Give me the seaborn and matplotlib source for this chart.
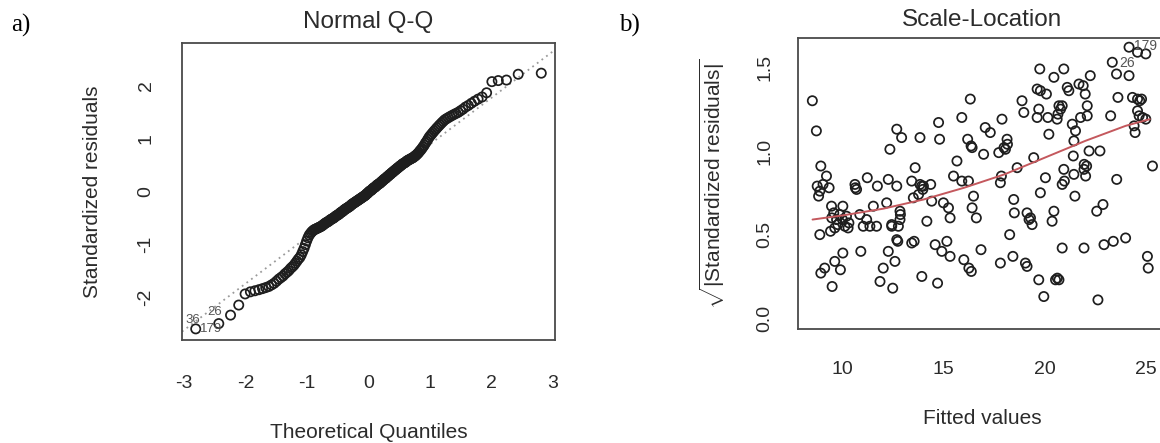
import numpy as np
import pandas as pd
import matplotlib
matplotlib.use("Agg")
import matplotlib.pyplot as plt
import seaborn as sns
from statistics import NormalDist

# ---------------- data ----------------
# a) sorted standardized residuals (n = 200)
std_resid_sorted = [
    -2.60, -2.50, -2.34, -2.15, -1.94, -1.90, -1.88, -1.86, -1.84, -1.82,
    -1.80, -1.77, -1.74, -1.70, -1.66, -1.63, -1.60, -1.56, -1.53, -1.50,
    -1.46, -1.43, -1.40, -1.36, -1.32, -1.28, -1.25, -1.20, -1.14, -1.08,
    -1.01, -0.94, -0.88, -0.83, -0.80, -0.77, -0.75, -0.73, -0.72, -0.71,
    -0.70, -0.69, -0.68, -0.67, -0.66, -0.645, -0.63, -0.615, -0.60, -0.59,
    -0.58, -0.57, -0.555, -0.54, -0.53, -0.52, -0.51, -0.50, -0.485, -0.47,
    -0.46, -0.45, -0.44, -0.43, -0.41, -0.40, -0.39, -0.38, -0.365, -0.35,
    -0.34, -0.33, -0.32, -0.31, -0.30, -0.29, -0.28, -0.265, -0.25, -0.24,
    -0.23, -0.22, -0.21, -0.20, -0.19, -0.18, -0.17, -0.16, -0.15, -0.14,
    -0.13, -0.12, -0.11, -0.10, -0.09, -0.08, -0.07, -0.05, -0.04, -0.03,
    -0.01, 0.00, 0.01, 0.02, 0.03, 0.05, 0.06, 0.07, 0.08, 0.09,
    0.11, 0.12, 0.13, 0.14, 0.15, 0.16, 0.18, 0.19, 0.20, 0.22,
    0.23, 0.24, 0.25, 0.27, 0.28, 0.29, 0.31, 0.32, 0.33, 0.35,
    0.36, 0.37, 0.39, 0.40, 0.41, 0.43, 0.44, 0.45, 0.47, 0.48,
    0.49, 0.51, 0.52, 0.53, 0.54, 0.55, 0.57, 0.58, 0.59, 0.60,
    0.61, 0.62, 0.63, 0.64, 0.66, 0.67, 0.69, 0.71, 0.73, 0.76,
    0.78, 0.81, 0.84, 0.87, 0.91, 0.94, 0.98, 1.02, 1.05, 1.08,
    1.11, 1.14, 1.17, 1.20, 1.23, 1.26, 1.29, 1.32, 1.35, 1.37,
    1.39, 1.41, 1.43, 1.45, 1.47, 1.49, 1.52, 1.55, 1.59, 1.62,
    1.66, 1.70, 1.74, 1.78, 1.86, 2.07, 2.09, 2.10, 2.21, 2.23,
]
qq_point_labels = ["179", "36", "26"]
qq_label_x = [-2.74, -2.97, -2.62]
qq_label_y = [-2.60, -2.44, -2.28]

# b) scale-location points
fitted_vals = [
    8.49, 8.69, 8.91, 9.19, 8.73, 9.32, 8.86, 9.44, 10.00, 9.55, 9.85, 10.18, 9.69, 9.98, 8.86,
    9.39, 9.60, 10.26, 10.00, 9.60, 9.10, 8.91, 9.88, 9.47, 9.02, 8.80, 9.45, 9.75, 10.30, 10.10,
    10.60, 10.68, 11.21, 11.71, 12.25, 12.67, 10.84, 11.18, 11.51, 11.01, 11.34, 11.67, 12.17, 12.42,
    12.83, 12.83, 12.75, 12.33, 12.67, 12.91, 10.89, 12.25, 12.58, 12.67, 12.72, 12.00, 11.84, 12.47,
    10.62, 12.42, 12.85,
    13.41, 13.58, 13.82, 13.82, 13.99, 14.35, 13.96, 13.49, 14.40, 13.41, 13.53, 13.91, 14.16, 14.74,
    14.79, 14.98, 15.23, 15.31, 14.57, 14.90, 15.15, 15.31, 14.69, 15.65, 15.48, 15.89, 16.22, 15.89,
    16.31, 16.18, 16.40, 16.47, 16.40, 16.61, 15.99, 16.24, 16.36, 16.84, 13.90, 16.35, 13.75,
    16.97, 17.05, 17.30, 17.88, 17.72, 18.05, 18.13, 17.80, 17.85, 17.80, 18.26, 18.46, 18.49, 18.42,
    18.63, 18.87, 18.96, 19.04, 19.12, 19.12, 19.29, 19.37, 19.45, 19.62, 19.78, 20.08, 19.75, 19.70,
    19.62, 19.78, 20.03, 20.20, 20.15, 19.70, 19.95, 20.45, 20.61, 20.70, 20.86, 20.78, 20.45, 20.36,
    20.86, 20.53, 20.70, 20.62, 20.94, 21.11, 21.19, 21.36, 21.52, 21.44, 21.41, 20.94, 20.86, 20.97,
    21.44, 21.49, 19.22, 18.15, 17.98, 20.65,
    21.69, 21.90, 22.00, 22.25, 22.10, 22.10, 21.77, 21.94, 22.07, 22.02, 22.19, 22.73, 21.94, 22.57,
    22.88, 22.63, 22.93, 23.39, 24.00, 23.34, 23.55, 24.17, 23.62, 23.26, 23.56, 24.17, 24.59, 25.00,
    24.34, 24.59, 24.79, 24.59, 24.67, 24.84, 24.42, 24.47, 25.00, 25.33, 25.08, 25.12, 21.95, 24.70,
]
sqrt_abs_resid = [
    1.30, 1.12, 0.91, 0.85, 0.79, 0.78, 0.76, 0.67, 0.67, 0.63, 0.62, 0.61, 0.59, 0.59, 0.50,
    0.52, 0.54, 0.54, 0.39, 0.34, 0.30, 0.27, 0.29, 0.19, 0.80, 0.73, 0.60, 0.56, 0.57, 0.55,
    0.80, 0.77, 0.84, 0.79, 0.83, 0.79, 0.62, 0.59, 0.67, 0.55, 0.55, 0.55, 0.69, 0.55,
    0.64, 0.59, 0.55, 1.01, 1.13, 1.08, 0.40, 0.40, 0.34, 0.47, 0.46, 0.30, 0.22, 0.18,
    0.78, 0.56, 0.62,
    0.82, 0.90, 1.08, 0.80, 0.79, 0.80, 0.77, 0.72, 0.70, 0.45, 0.46, 0.25, 0.58, 1.17,
    1.07, 0.69, 0.66, 0.60, 0.44, 0.40, 0.46, 0.37, 0.21, 0.94, 0.85, 0.82, 0.82, 1.20,
    1.31, 1.07, 1.02, 0.73, 0.66, 0.60, 0.35, 0.30, 0.28, 0.41, 0.79, 1.03, 0.74,
    0.98, 1.14, 1.11, 1.19, 0.99, 1.01, 1.07, 0.81, 0.85, 0.33, 0.50, 0.71, 0.63, 0.37,
    0.90, 1.30, 1.23, 0.33, 0.31, 0.63, 0.60, 0.56, 0.96, 1.37, 1.36, 1.34, 1.49, 1.25,
    1.20, 0.75, 0.84, 1.10, 1.20, 0.23, 0.13, 1.44, 1.19, 1.27, 1.27, 1.25, 0.64, 0.58,
    0.42, 0.23, 0.23, 0.24, 1.49, 1.38, 1.36, 1.16, 1.12, 1.06, 0.97, 0.89, 0.80, 0.82,
    0.86, 0.73, 0.59, 1.04, 1.02, 1.22,
    1.40, 1.39, 1.34, 1.45, 1.27, 1.21, 1.20, 0.89, 0.91, 0.85, 1.00, 1.00, 0.42, 0.64,
    0.68, 0.11, 0.44, 0.46, 0.48, 1.53, 1.46, 1.45, 1.32, 1.21, 0.83, 1.62, 1.59, 1.58,
    1.32, 1.31, 1.31, 1.24, 1.21, 1.20, 1.15, 1.11, 1.19, 0.91, 0.37, 0.30, 0.92, 1.30,
]
# smoother (red line)
trend_x = [8.5, 10.0, 12.0, 14.0, 16.0, 18.0, 20.0, 22.0, 24.0, 25.2]
trend_y = [0.59, 0.615, 0.655, 0.71, 0.78, 0.86, 0.96, 1.06, 1.15, 1.19]
sl_point_labels = ["179", "26"]
sl_label_x = [24.42, 23.70]
sl_label_y = [1.63, 1.525]

# ---------------- style ----------------
sns.set_style("white")
plt.rcParams["font.family"] = ["Liberation Sans", "DejaVu Sans"]
plt.rcParams["axes.unicode_minus"] = False
plt.rcParams["mathtext.fontset"] = "custom"
plt.rcParams["mathtext.rm"] = "Liberation Sans"
plt.rcParams["mathtext.it"] = "Liberation Sans:italic"
plt.rcParams["mathtext.bf"] = "Liberation Sans:bold"

TXT = "#2b2b2b"
PT = "#1e1e1e"

W, H = 1160, 443
fig = plt.figure(figsize=(W / 100, H / 100), dpi=100)
ax1 = fig.add_axes([182 / W, 1 - 340 / H, 373 / W, 297 / H])
ax2 = fig.add_axes([798 / W, 1 - 329 / H, 368 / W, 291 / H])

# ---------------- a) Normal Q-Q ----------------
n = len(std_resid_sorted)
nd = NormalDist()
theo = [nd.inv_cdf((i + 0.5) / n) for i in range(n)]
qq = pd.DataFrame({"theo": theo, "resid": std_resid_sorted})

q1, q3 = np.quantile(qq["resid"], [0.25, 0.75])
z = nd.inv_cdf(0.75)
ax1.axline((-z, q1), (z, q3), color="#9a9a9a", lw=1.3, ls=(0, (1, 2.2)), zorder=1)

sns.scatterplot(data=qq, x="theo", y="resid", ax=ax1, marker="o", s=44,
                facecolor="none", edgecolor=PT, linewidth=1.25, legend=False, zorder=2)
for lab, lx, ly in zip(qq_point_labels, qq_label_x, qq_label_y):
    ax1.text(lx, ly, lab, fontsize=9.5, color="#555555", ha="left", va="center")

ax1.set_xlim(-3.03, 3.03)
ax1.set_ylim(-2.81, 2.80)
ax1.set_xticks([-3, -2, -1, 0, 1, 2, 3])
ax1.set_yticks([-2, -1, 0, 1, 2])
ax1.set_title("Normal Q-Q", fontsize=17.5, color=TXT, y=1 + 21 / 297, pad=0, va="center")
ax1.set_xlabel("Theoretical Quantiles", fontsize=15, color=TXT)
ax1.set_ylabel("Standardized residuals", fontsize=15, color=TXT)
ax1.xaxis.set_label_coords(0.5, -92 / 297)
ax1.xaxis.label.set_va("center")
ax1.yaxis.set_label_coords(-89 / 373, 0.5)
ax1.yaxis.label.set_va("center")

# ---------------- b) Scale-Location ----------------
sl = pd.DataFrame({"fitted": fitted_vals, "sqrt_abs": sqrt_abs_resid})
sns.scatterplot(data=sl, x="fitted", y="sqrt_abs", ax=ax2, marker="o", s=44,
                facecolor="none", edgecolor=PT, linewidth=1.25, legend=False, zorder=2)
sns.lineplot(x=trend_x, y=trend_y, ax=ax2, color="#c4585d", linewidth=1.4, sort=False, zorder=3)
for lab, lx, ly in zip(sl_point_labels, sl_label_x, sl_label_y):
    ax2.text(lx, ly, lab, fontsize=10, color="#555555", ha="left", va="center")

ax2.set_xlim(7.78, 26.0)
ax2.set_ylim(-0.064, 1.675)
ax2.set_xticks([10, 15, 20, 25])
ax2.set_yticks([0.0, 0.5, 1.0, 1.5])
ax2.set_yticklabels(["0.0", "0.5", "1.0", "1.5"])
ax2.set_title("Scale-Location", fontsize=17.5, color=TXT, y=1 + 18 / 291, pad=0, va="center")
ax2.set_xlabel("Fitted values", fontsize=15, color=TXT)
ax2.set_ylabel(r"$\sqrt{|\mathrm{Standardized\ residuals}|}$", fontsize=15, color=TXT)
ax2.xaxis.set_label_coords(0.5, -89 / 291)
ax2.xaxis.label.set_va("center")
ax2.yaxis.set_label_coords(-86 / 368, 0.5)
ax2.yaxis.label.set_va("center")

# ---------------- common axis styling ----------------
for ax, xpad, ypad in [(ax1, 16, 10.5), (ax2, 13.5, 8.5)]:
    for sp in ax.spines.values():
        sp.set_visible(True)
        sp.set_color("#4a4a4a")
        sp.set_linewidth(1.3)
    ax.tick_params(axis="both", direction="out", length=9.3, width=1.0,
                   color="#333333", labelsize=14, labelcolor=TXT)
    ax.tick_params(axis="x", pad=xpad)
    ax.tick_params(axis="y", pad=ypad)
    for t in ax.get_yticklabels():
        t.set_rotation(90)
        t.set_va("center")
    ax.grid(False)

fig.text(11 / W, 1 - 25 / H, "a)", family="Liberation Serif", fontsize=18, color="black",
         ha="left", va="center")
fig.text(619 / W, 1 - 25 / H, "b)", family="Liberation Serif", fontsize=18, color="black",
         ha="left", va="center")

fig.savefig("out.png", dpi=100, facecolor="white")
